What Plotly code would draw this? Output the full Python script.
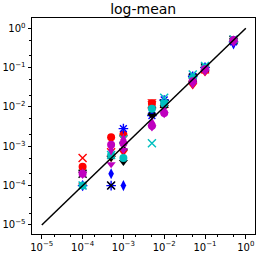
import plotly.graph_objects as go

x_vals = [1e-4, 5e-4, 1e-3, 5e-3, 1e-2, 5e-2, 1e-1, 5e-1]

# series: (name, color, symbol, values)
red_x = [5e-4, 7e-4, 1.5e-3, 1.1e-2, 1.2e-2, 5.0e-2, 9.0e-2, 0.50]
red_o = [3e-4, 1.7e-3, 2.0e-3, 1.2e-2, 1.1e-2, 4.5e-2, 8.5e-2, 0.48]
red_v = [1.0e-4, 5.0e-4, 7.0e-4, 1.4e-2, 1.3e-2, 3.5e-2, 7.5e-2, 0.45]
blue_d = [1e-4, 2e-4, 1e-4, 7e-3, 1.0e-2, 5.0e-2, 0.10, 0.40]
blue_star = [1e-4, 1e-4, 2.8e-3, 6e-3, 1.5e-2, 6.0e-2, 0.10, 0.45]
black_v = [2e-4, 5e-4, 4e-4, 6e-3, 1.0e-2, 5.0e-2, 9.0e-2, 0.50]
black_x = [2e-4, 1e-4, 1.0e-3, 8e-3, 1.2e-2, 5.5e-2, 0.10, 0.50]
cyan_x = [1e-4, 6e-4, 1.5e-3, 1.2e-3, 1.7e-2, 6.7e-2, 0.11, 0.52]
cyan_o = [1e-4, 6e-4, 5e-4, 9e-3, 1.2e-2, 5.5e-2, 0.10, 0.50]
magenta_v = [2e-4, 3.5e-4, 8e-4, 3e-3, 6.5e-3, 3.8e-2, 8.0e-2, 0.43]
magenta_o = [2e-4, 1.1e-3, 1.2e-3, 3.3e-3, 7e-3, 4.5e-2, 9.0e-2, 0.50]
magenta_d = [2e-4, 8e-4, 1.5e-3, 4e-3, 8e-3, 4.0e-2, 8.5e-2, 0.48]

series = [
    ("red x", "red", "x-thin", red_x),
    ("red o", "red", "circle", red_o),
    ("red v", "red", "triangle-down", red_v),
    ("blue d", "blue", "diamond-tall", blue_d),
    ("blue *", "blue", "asterisk", blue_star),
    ("black v", "black", "triangle-down", black_v),
    ("black x", "black", "x-thin", black_x),
    ("cyan x", "#00bfbf", "x-thin", cyan_x),
    ("cyan o", "#00bfbf", "circle", cyan_o),
    ("magenta v", "#bf00bf", "triangle-down", magenta_v),
    ("magenta d", "#bf00bf", "diamond-tall", magenta_d),
    ("magenta o", "#bf00bf", "circle", magenta_o),
]

line_x = [1e-5, 1.0]
line_y = [1e-5, 1.0]

tick_vals = [1e-5, 1e-4, 1e-3, 1e-2, 1e-1, 1e0]
tick_text = ["10<sup>−5</sup>", "10<sup>−4</sup>", "10<sup>−3</sup>",
             "10<sup>−2</sup>", "10<sup>−1</sup>", "10<sup>0</sup>"]

fig = go.Figure()
for name, color, sym, vals in series:
    open_sym = sym in ("x-thin", "asterisk")
    fig.add_trace(go.Scatter(
        x=x_vals, y=vals, mode="markers", name=name,
        marker=dict(symbol=sym, size=8, color=color,
                    line=dict(width=1.4 if open_sym else 0, color=color)),
    ))

fig.add_trace(go.Scatter(x=line_x, y=line_y, mode="lines",
                         line=dict(color="black", width=1.5), name="y=x"))

axis_common = dict(
    type="log", tickvals=tick_vals, ticktext=tick_text,
    showline=True, linecolor="black", linewidth=1, mirror=True,
    ticks="outside", ticklen=3.5, tickwidth=1, tickcolor="black",
    showgrid=False, zeroline=False,
    tickfont=dict(family="DejaVu Sans", size=10, color="black"),
    minor=dict(ticks="outside", ticklen=2, tickwidth=0.8, tickcolor="black", showgrid=False),
)

fig.update_layout(
    width=258, height=255,
    margin=dict(l=30, r=2, t=18, b=16),
    paper_bgcolor="white", plot_bgcolor="white",
    showlegend=False,
    title=dict(text="log-mean", x=0.555, xanchor="center", y=0.985, yanchor="top",
               font=dict(family="DejaVu Sans", size=14, color="black")),
    xaxis=dict(range=[-5.24, 0.225], ticklabelstandoff=0, **axis_common),
    yaxis=dict(range=[-5.23, 0.26], **axis_common),
)

fig.write_html("out.html",
               config={"displayModeBar": False},
               post_script="document.body.style.margin='0';document.body.style.overflow='hidden';")
